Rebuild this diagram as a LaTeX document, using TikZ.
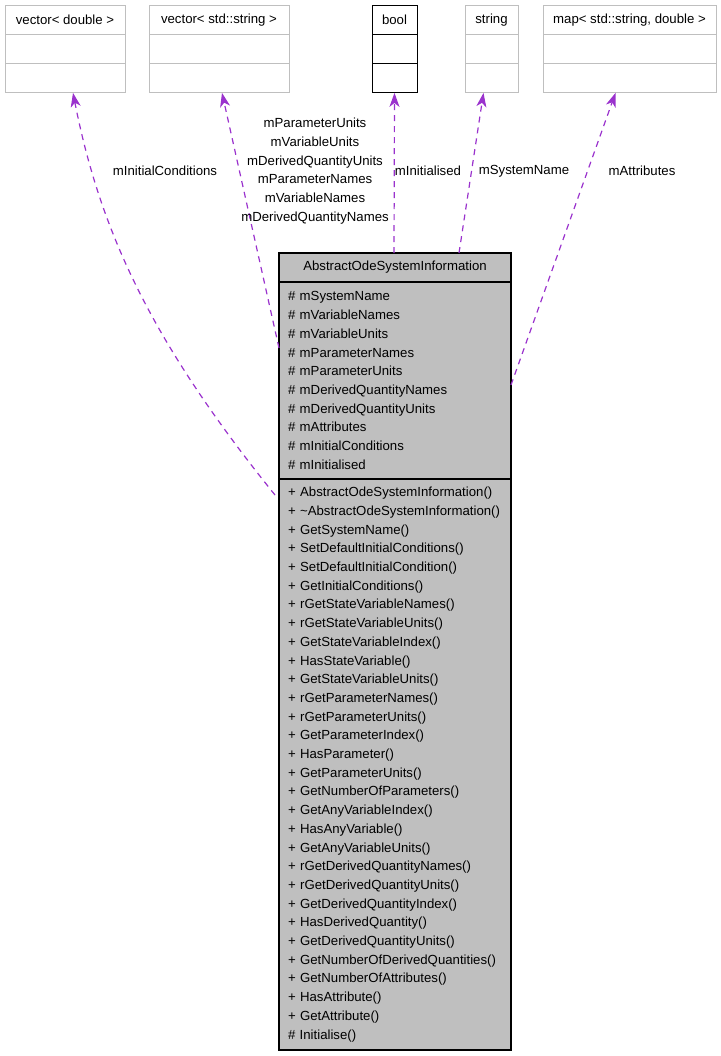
\documentclass[tikz,border=0pt]{standalone}
\usepackage{fontspec}
\setmainfont{Liberation Sans}
\usetikzlibrary{positioning,arrows.meta}
\definecolor{relcol}{HTML}{9A32CD}

\begin{document}
\begin{tikzpicture}[
  x=1bp, y=-1bp,
  >={Stealth[length=14bp,width=10bp,inset=4bp]},
  txt/.style={font=\fontsize{13.2bp}{18.7bp}\selectfont},
  tbox/.style={draw=gray!50, line width=1bp, minimum height=29.3bp, inner sep=0pt, outer sep=0pt, txt},
  cls/.style={draw=black, line width=1.5bp, fill=gray!50, inner xsep=9bp, inner ysep=0pt, outer sep=0pt, txt},
  rel/.style={->, draw=relcol, dash pattern=on 6bp off 5bp, line width=1.2bp},
  lab/.style={txt, align=center, inner sep=0pt},
  node distance=0pt
]
\useasboundingbox (0,0) rectangle (721,1056);

% Member types
\node[tbox, minimum width=120bp, anchor=north west] (vdblh) at (5,5) {vector< double >};
\node[tbox, minimum width=120bp, below=of vdblh] (vdblm) {};
\node[tbox, minimum width=120bp, below=of vdblm] (vdblf) {};

\node[tbox, minimum width=140bp, anchor=north west] (vstrh) at (149,5) {vector< std::string >};
\node[tbox, minimum width=140bp, below=of vstrh] (vstrm) {};
\node[tbox, minimum width=140bp, below=of vstrm] (vstrf) {};

\node[tbox, draw=black, minimum width=45bp, anchor=north west] (boolh) at (372,5) {bool};
\node[tbox, draw=black, minimum width=45bp, below=of boolh] (boolm) {};
\node[tbox, draw=black, minimum width=45bp, below=of boolm] (boolf) {};

\node[tbox, minimum width=53bp, anchor=north west] (strh) at (465,5) {string};
\node[tbox, minimum width=53bp, below=of strh] (strm) {};
\node[tbox, minimum width=53bp, below=of strm] (strf) {};

\node[tbox, minimum width=173bp, anchor=north west] (maph) at (543,5) {map< std::string, double >};
\node[tbox, minimum width=173bp, below=of maph] (mapm) {};
\node[tbox, minimum width=173bp, below=of mapm] (mapf) {};

% Class
\node[cls, minimum width=232bp, minimum height=29bp, anchor=north west] (head) at (279,253) {AbstractOdeSystemInformation};
\node[cls, text width=214bp, minimum height=197bp, align=left, below=of head] (attr) {%
\# mSystemName\\
\# mVariableNames\\
\# mVariableUnits\\
\# mParameterNames\\
\# mParameterUnits\\
\# mDerivedQuantityNames\\
\# mDerivedQuantityUnits\\
\# mAttributes\\
\# mInitialConditions\\
\# mInitialised};
\node[cls, text width=214bp, minimum height=571bp, align=left, below=of attr] (meth) {%
+ AbstractOdeSystemInformation()\\
+ \textasciitilde AbstractOdeSystemInformation()\\
+ GetSystemName()\\
+ SetDefaultInitialConditions()\\
+ SetDefaultInitialCondition()\\
+ GetInitialConditions()\\
+ rGetStateVariableNames()\\
+ rGetStateVariableUnits()\\
+ GetStateVariableIndex()\\
+ HasStateVariable()\\
+ GetStateVariableUnits()\\
+ rGetParameterNames()\\
+ rGetParameterUnits()\\
+ GetParameterIndex()\\
+ HasParameter()\\
+ GetParameterUnits()\\
+ GetNumberOfParameters()\\
+ GetAnyVariableIndex()\\
+ HasAnyVariable()\\
+ GetAnyVariableUnits()\\
+ rGetDerivedQuantityNames()\\
+ rGetDerivedQuantityUnits()\\
+ GetDerivedQuantityIndex()\\
+ HasDerivedQuantity()\\
+ GetDerivedQuantityUnits()\\
+ GetNumberOfDerivedQuantities()\\
+ GetNumberOfAttributes()\\
+ HasAttribute()\\
+ GetAttribute()\\
\# Initialise()};

% Usage relations
\draw[rel] ([xshift=-4bp,yshift=-16bp]meth.north west) .. controls (150,340) and (100,230) .. ([xshift=8bp]vdblf.south);
\draw[rel] ([yshift=-66bp]attr.north west) -- ([xshift=3bp]vstrf.south);
\draw[rel] ([xshift=-1bp]head.north) -- (boolf.south);
\draw[rel] ([xshift=64bp]head.north) -- ([xshift=-8bp]strf.south);
\draw[rel] ([yshift=-103bp]attr.north east) -- ([xshift=-14bp]mapf.south);

% Labels
\node[lab] (licond) at (165,171) {mInitialConditions};
\node[lab] (lnames) at (315,171) {mParameterUnits\\mVariableUnits\\mDerivedQuantityUnits\\mParameterNames\\mVariableNames\\mDerivedQuantityNames};
\node[lab] (linit) at (428,171) {mInitialised};
\node[lab] (lsys) at (524,171) {mSystemName};
\node[lab] (lattr) at (642,171) {mAttributes};
\end{tikzpicture}
\end{document}
